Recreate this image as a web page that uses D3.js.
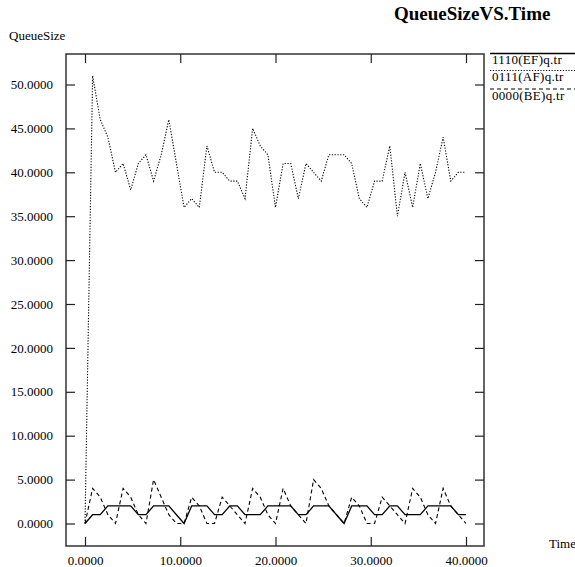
<!DOCTYPE html>
<html>
<head>
<meta charset="utf-8">
<script src="https://cdn.jsdelivr.net/npm/d3@7"></script>
<style>
  body { margin: 0; background: #fff; }
  text { font-family: "Liberation Serif", "DejaVu Serif", serif; fill: #000; }
</style>
</head>
<body>
<div id="chart"></div>
<script>
// sample times
var times = [0, 0.8, 1.6, 2.4, 3.2, 4.0, 4.8, 5.6, 6.4, 7.2, 8.0, 8.8, 9.6, 10.4, 11.2, 12.0, 12.8,
  13.6, 14.4, 15.2, 16.0, 16.8, 17.6, 18.4, 19.2, 20.0, 20.8, 21.6, 22.4, 23.2, 24.0, 24.8, 25.6,
  26.4, 27.2, 28.0, 28.8, 29.6, 30.4, 31.2, 32.0, 32.8, 33.6, 34.4, 35.2, 36.0, 36.8, 37.6, 38.4,
  39.2, 40.0];

var efQueue = [0, 1, 1, 2, 2, 2, 2, 1, 1, 2, 2, 2, 1, 0, 2, 2, 2, 1, 1, 2, 2, 1, 1, 1, 2, 2,
  2, 2, 1, 1, 2, 2, 2, 1, 0, 2, 2, 2, 1, 1, 2, 2, 1, 1, 1, 2, 2, 2, 2, 1, 1];

var afQueue = [0, 51, 46, 44, 40, 41, 38, 41, 42, 39, 42, 46, 41, 36, 37, 36, 43, 40, 40, 39, 39,
  37, 45, 43, 42, 36, 41, 41, 37, 41, 40, 39, 42, 42, 42, 41, 37, 36, 39, 39, 43, 35, 40, 36,
  41, 37, 40, 44, 39, 40, 40];

var beQueue = [0, 4, 3, 1, 0, 4, 3, 1, 0, 5, 3, 1, 0, 0, 3, 2, 0, 0, 3, 2, 1, 0, 4, 3, 1, 0,
  4, 2, 1, 0, 5, 4, 2, 1, 0, 3, 2, 0, 0, 3, 2, 1, 0, 4, 3, 1, 0, 4, 2, 1, 0];

var seriesNames = ["1110(EF)q.tr", "0111(AF)q.tr", "0000(BE)q.tr"];
var xTicks = [0, 10, 20, 30, 40];
var yTicks = [0, 5, 10, 15, 20, 25, 30, 35, 40, 45, 50];

var width = 575, height = 567;
var frame = { left: 66, right: 484, top: 54, bottom: 546 };
var tickLen = 9;

var svg = d3.select("#chart").append("svg")
  .attr("width", width)
  .attr("height", height);

var x = d3.scaleLinear().domain([0, 40]).range([85, 466]);
var y = d3.scaleLinear().domain([0, 50]).range([523.5, 84.5]);
var fmt = d3.format(".4f");

// frame
svg.append("rect")
  .attr("x", frame.left)
  .attr("y", frame.top)
  .attr("width", frame.right - frame.left)
  .attr("height", frame.bottom - frame.top)
  .attr("fill", "none")
  .attr("stroke", "#333")
  .attr("stroke-width", 1.5);

// axes: ticks on all four sides, labels left and bottom only
svg.append("g")
  .attr("transform", "translate(0," + frame.bottom + ")")
  .call(d3.axisBottom(x).tickValues(xTicks).tickFormat(fmt).tickSize(-tickLen).tickPadding(10))
  .call(function(g) { g.select(".domain").remove(); });

svg.append("g")
  .attr("transform", "translate(0," + frame.top + ")")
  .call(d3.axisTop(x).tickValues(xTicks).tickFormat("").tickSize(-tickLen))
  .call(function(g) { g.select(".domain").remove(); });

svg.append("g")
  .attr("transform", "translate(" + frame.left + ",0)")
  .call(d3.axisLeft(y).tickValues(yTicks).tickFormat(fmt).tickSize(-tickLen).tickPadding(13))
  .call(function(g) { g.select(".domain").remove(); });

svg.append("g")
  .attr("transform", "translate(" + frame.right + ",0)")
  .call(d3.axisRight(y).tickValues(yTicks).tickFormat("").tickSize(-tickLen))
  .call(function(g) { g.select(".domain").remove(); });

svg.selectAll(".tick line").attr("stroke", "#222").attr("stroke-width", 1.2);
svg.selectAll(".tick text")
  .style("font-family", "'Liberation Serif', serif")
  .style("font-size", "13px")
  .attr("fill", "#000");

// series
var styles = [
  { data: efQueue, dash: null, width: 1.3 },
  { data: afQueue, dash: "1.2,1.6", width: 1.1 },
  { data: beQueue, dash: "4,3", width: 1.1 }
];

var line = d3.line()
  .x(function(d, i) { return x(times[i]); })
  .y(function(d) { return y(d); });

svg.selectAll("path.series")
  .data(styles)
  .enter()
  .append("path")
  .attr("class", "series")
  .attr("d", function(s) { return line(s.data); })
  .attr("fill", "none")
  .attr("stroke", "#000")
  .attr("stroke-width", function(s) { return s.width; })
  .attr("stroke-dasharray", function(s) { return s.dash; });

// legend
var legendY = [53.5, 70.5, 89];
var legend = svg.selectAll("g.legend")
  .data(seriesNames)
  .enter()
  .append("g")
  .attr("class", "legend")
  .attr("transform", function(d, i) { return "translate(490," + legendY[i] + ")"; });

legend.append("line")
  .attr("x1", 0)
  .attr("x2", width - 490)
  .attr("stroke", "#000")
  .attr("stroke-width", function(d, i) { return styles[i].width; })
  .attr("stroke-dasharray", function(d, i) { return styles[i].dash; });

legend.append("text")
  .attr("x", 2)
  .attr("y", 10.5)
  .style("font-size", "13px")
  .style("letter-spacing", "0.3px")
  .text(function(d) { return d; });

// titles
svg.append("text")
  .attr("x", 394)
  .attr("y", 20)
  .style("font-size", "19px")
  .style("font-weight", "bold")
  .text("QueueSizeVS.Time");

svg.append("text")
  .attr("x", 9)
  .attr("y", 40)
  .style("font-size", "13px")
  .text("QueueSize");

svg.append("text")
  .attr("x", 549)
  .attr("y", 548)
  .style("font-size", "13px")
  .text("Time");
</script>
</body>
</html>
